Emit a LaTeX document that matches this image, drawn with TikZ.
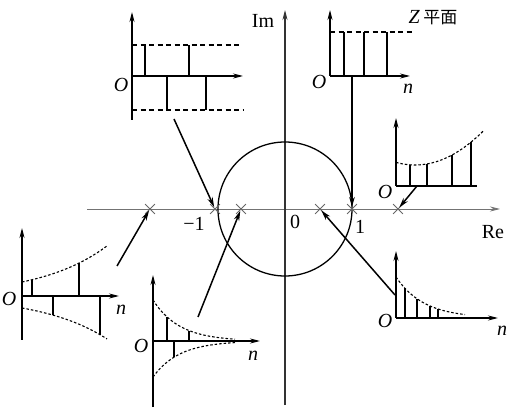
\documentclass[tikz,border=0pt]{standalone}
\usepackage{fontspec}
\setmainfont{Liberation Serif}
\newfontfamily\cjk{Noto Sans CJK SC}
\usetikzlibrary{arrows.meta,shapes.misc}

\tikzset{
  axis/.style={line width=1.3pt,-{Stealth[length=10pt,width=5pt]}},
  stem/.style={line width=1.3pt},
  level/.style={line width=1.1pt,dash pattern=on 5pt off 3.5pt},
  envelope/.style={line width=1.1pt,dash pattern=on 2.5pt off 2pt},
  pole/.style={cross out,draw=black!60,line width=0.8pt,minimum size=9pt,inner sep=0pt},
  pointer/.style={line width=1.5pt,shorten >=2pt,-{Stealth[length=10pt,width=5.5pt]}},
  lbl/.style={font=\fontsize{20}{22}\selectfont,inner sep=0pt},
  ilbl/.style={font=\fontsize{20}{22}\selectfont\itshape,inner sep=0pt}
}

\begin{document}
\begin{tikzpicture}[x=1pt,y=-1pt]
  \useasboundingbox (0,0) rectangle (515,409);
  % z-plane
  \draw[black!55,line width=0.9pt,-{Stealth[length=10pt,width=5pt]}] (87,209) -- (500,209);
  \draw[black!80,line width=1.2pt,-{Stealth[length=10pt,width=5pt]}] (285,405) -- (285,10);
  \draw[line width=1.3pt] (285,209) circle[radius=67pt];
  \node[lbl] (re) at (493,232) {Re};
  \node[lbl] (im) at (263,21) {Im};
  \node[lbl] (mone) at (194,224) {−1};
  \node[lbl] (zero) at (295,222) {0};
  \node[lbl] (one) at (360,227) {1};
  \node[lbl] (zplane) at (433,18) {\textit{Z}\,{\cjk\fontsize{17}{19}\selectfont 平面}};
  \node[pole] (pa) at (150,209) {};
  \node[pole] (pm1) at (215,209) {};
  \node[pole] (pb) at (241,209) {};
  \node[pole] (pc) at (320,209) {};
  \node[pole] (pone) at (352,209) {};
  \node[pole] (pd) at (398,209) {};

  % z = -1 : alternating, constant
  \draw[axis] (132,120) -- (132,12);
  \draw[axis] (132,76) -- (243,76);
  \draw[level] (132,45) -- (240,45);
  \draw[level] (132,110) -- (243,110);
  \draw[stem] (145,76) -- (145,45) (189,76) -- (189,45);
  \draw[stem] (167,76) -- (167,110) (206,76) -- (206,110);
  \node[ilbl] (oa) at (121,85) {O};
  \coordinate (alt) at (174,119);

  % z = 1 : constant
  \draw[axis] (330,76) -- (330,10);
  \draw[axis] (330,76) -- (410,76);
  \draw[level] (330,32) -- (413,32);
  \draw[stem] (344,76) -- (344,32) (364,76) -- (364,32) (387,76) -- (387,32);
  \node[ilbl] (ob) at (319,82) {O};
  \node[ilbl] (nb) at (408,89) {n};
  \coordinate (const) at (352,76);

  % z > 1 : growing
  \draw[axis] (396,186) -- (396,118);
  \draw[stem] (396,186) -- (477,186);
  \draw[envelope] plot[domain=396:483,samples=30] (\x,{165-0.0073*(\x-415)^2});
  \draw[stem] (410,186) -- (410,165) (427,186) -- (427,164) (452,186) -- (452,155) (471,186) -- (471,142);
  \node[ilbl] (oc) at (385,192) {O};
  \coordinate (grow) at (417,186);

  % z < -1 : alternating, growing
  \draw[axis] (22,340) -- (22,228);
  \draw[axis] (22,296) -- (119,296);
  \draw[envelope] plot[domain=22:107,samples=30] (\x,{296-14*exp(0.015*(\x-22))});
  \draw[envelope] plot[domain=22:107,samples=30] (\x,{296+12*exp(0.015*(\x-22))});
  \draw[stem] (32,296) -- (32,280) (79,296) -- (79,263);
  \draw[stem] (53,296) -- (53,315) (100,296) -- (100,335);
  \node[ilbl] (od) at (9,299) {O};
  \node[ilbl] (nd) at (121,310) {n};
  \coordinate (altgrow) at (117,266);

  % -1 < z < 0 : alternating, decaying
  \draw[axis] (153,407) -- (153,275);
  \draw[axis] (153,341) -- (260,341);
  \draw[envelope] plot[domain=153:235,samples=30] (\x,{341-41*exp(-0.038*(\x-153))});
  \draw[envelope] plot[domain=153:235,samples=30] (\x,{341+36*exp(-0.038*(\x-153))});
  \draw[stem] (167,341) -- (167,317) (189,341) -- (189,331);
  \draw[stem] (174,341) -- (174,357);
  \node[ilbl] (oe) at (141,346) {O};
  \node[ilbl] (ne) at (253,356) {n};
  \coordinate (altdecay) at (198,317);

  % 0 < z < 1 : decaying
  \draw[axis] (396,318) -- (396,251);
  \draw[axis] (396,318) -- (498,318);
  \draw[envelope] plot[domain=396:465,samples=30] (\x,{318-41*exp(-0.036*(\x-396))});
  \draw[stem] (405,318) -- (405,288) (417,318) -- (417,299) (430,318) -- (430,306) (438,318) -- (438,309);
  \node[ilbl] (of) at (385,321) {O};
  \node[ilbl] (nf) at (502,331) {n};
  \coordinate (decay) at (395,295);

  % pointers to the poles
  \draw[pointer] (alt) -- (pm1.center);
  \draw[pointer] (const) -- (pone.center);
  \draw[pointer] (grow) -- (pd.center);
  \draw[pointer] (altgrow) -- (pa.center);
  \draw[pointer] (altdecay) -- (pb.center);
  \draw[pointer] (decay) -- (pc.center);
\end{tikzpicture}
\end{document}
